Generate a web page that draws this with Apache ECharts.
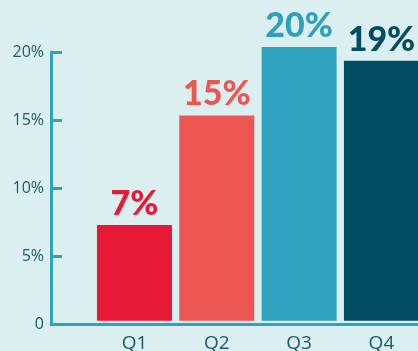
<!DOCTYPE html>
<html>
<head>
<meta charset="utf-8">
<script src="https://cdn.jsdelivr.net/npm/echarts@6/dist/echarts.min.js"></script>
<style>
html,body{margin:0;padding:0;background:#dbeff0;}
#c{width:418px;height:351px;}
</style>
</head>
<body>
<div id="c"></div>
<script>
var categories = ['Q1', 'Q2', 'Q3', 'Q4'];
var values = [7, 15, 20, 19];
var barColors = ['#e61937', '#eb5650', '#2ea1be', '#024d63'];
var yTicks = [0, 5, 10, 15, 20];

var chart = echarts.init(document.getElementById('c'), null, {renderer: 'canvas'});
var axisColor = '#2ea3c1';
var textColor = '#175a6b';
chart.setOption({
  backgroundColor: '#dbeff0',
  animation: false,
  grid: [
    {left: 93.3, right: -4.6, top: 47, bottom: 30.3, outerBoundsMode: 'none', containLabel: false},
    {left: 51, right: -3, top: 52, bottom: 26.5, outerBoundsMode: 'none', containLabel: false}
  ],
  xAxis: [
    {
      type: 'category', gridIndex: 0, data: categories,
      axisLine: {show: false}, axisTick: {show: false},
      axisLabel: {color: textColor, fontFamily: 'Open Sans', fontSize: 19, margin: 13}
    },
    {
      type: 'value', gridIndex: 1, min: 0, max: 1,
      axisLine: {show: true, lineStyle: {color: axisColor, width: 3}},
      axisTick: {show: false}, axisLabel: {show: false}, splitLine: {show: false}
    }
  ],
  yAxis: [
    {type: 'value', gridIndex: 0, min: 0, max: 20, show: false},
    {
      type: 'value', gridIndex: 1, min: yTicks[0], max: yTicks[yTicks.length - 1], interval: 5,
      axisLine: {show: true, lineStyle: {color: axisColor, width: 3}},
      axisTick: {show: true, inside: true, length: 11, lineStyle: {color: axisColor, width: 3}},
      splitLine: {show: false},
      axisLabel: {
        color: textColor, fontFamily: 'Open Sans', fontSize: 16, margin: 7,
        formatter: function (v) { return v === 0 ? '0' : v + '%'; }
      }
    }
  ],
  series: [{
    type: 'bar', xAxisIndex: 0, yAxisIndex: 0,
    barWidth: 75,
    data: values.map(function (v, i) {
      return {
        value: v,
        itemStyle: {color: barColors[i]},
        label: {color: barColors[i]}
      };
    }),
    label: {
      show: true, position: 'top', distance: 4,
      fontFamily: 'Lato', fontWeight: 900, fontSize: 34,
      formatter: function (p) { return p.value + '%'; }
    }
  }]
});
</script>
</body>
</html>
